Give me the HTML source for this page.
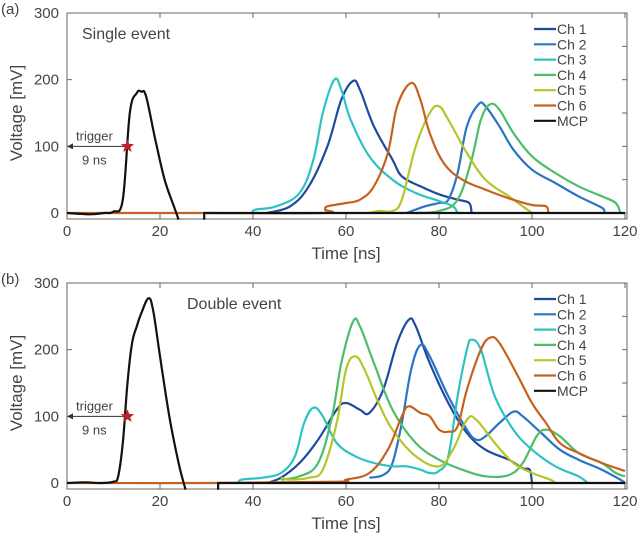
<!DOCTYPE html>
<html><head><meta charset="utf-8"><style>
html,body{margin:0;padding:0;background:#fff;width:640px;height:534px;overflow:hidden}
svg text{font-family:"Liberation Sans",sans-serif;fill:#444}
</style></head><body>
<svg id="fig" width="640" height="534"></svg>
<script>
const xTicks=[0,20,40,60,80,100,120];
const yTicks=[0,100,200,300];
const seriesNames=["Ch 1","Ch 2","Ch 3","Ch 4","Ch 5","Ch 6","MCP"];
const seriesColors=["#1d4b9e","#2a74c4","#2ec2c2","#4cbd68","#b7c52a","#c6621f","#111111"];
// panel a data: [time ns, mV]
const a_ch1=[[43,0],[48,10],[52,40],[56,100],[59,170],[61.5,198],[63,185],[66,130],[70,80],[72,55],[76,40],[80,28],[84,20],[86.5,15],[87,0]];
const a_ch2=[[73,0],[77,10],[80,15],[82,20],[84,60],[86,130],[88.5,163],[90,160],[93,130],[96,95],[100,65],[105,45],[110,25],[115,8],[115.5,0]];
const a_ch3=[[40,0],[40.5,5],[45,10],[50,30],[53,80],[55,150],[57.5,200],[59,185],[61,140],[65,85],[70,50],[75,30],[80,18],[83,10],[84,0]];
const a_ch4=[[75,0],[80,3],[84,20],[87,80],[89,140],[91,163],[93,155],[96,120],[100,85],[105,60],[110,40],[115,25],[118,15],[119,0]];
const a_ch5=[[65,0],[67,3],[70,3],[72,20],[75,100],[78,150],[80,160],[82,140],[86,90],[90,50],[95,25],[98,10],[100,0]];
const a_ch6=[[0,0],[29,0],[55,0],[55.5,5],[56,10],[60,15],[63,20],[66,40],[69,90],[71,160],[74,195],[76,170],[78,120],[81,75],[85,50],[90,35],[95,22],[100,12],[103,10],[103.5,0]];
const a_mcp=[[0,0],[5,-2],[8,0],[10,2],[12,20],[13.5,150],[15,180],[16,182],[17,175],[19,110],[21,50],[23,10],[24,-10]];
const a_mcp2=[[29.5,-10],[29.5,0],[120,0]];
// panel b data
const b_ch1=[[43,0],[46,8],[50,30],[54,65],[58,110],[60,120],[63,110],[65,105],[68,140],[71,210],[73.5,245],[75,235],[78,180],[82,120],[86,75],[90,50],[95,35],[98,22],[99.5,20],[100,0]];
const b_ch2=[[65,8],[68,12],[70,30],[72,90],[74,170],[76,207],[78,190],[82,130],[86,80],[88,65],[90,70],[93,90],[96,107],[98,100],[102,75],[106,50],[110,35],[115,20],[119,5],[120,0]];
const b_ch3=[[37,0],[37.5,5],[42,8],[46,15],[49,40],[51,90],[53,113],[55,100],[58,60],[62,40],[66,30],[70,25],[73,25],[76,20],[78,15],[80,18],[82,40],[84,130],[86,200],[87,215],[89,200],[92,130],[96,80],[100,50],[105,25],[110,10],[112,0]];
const b_ch4=[[46,5],[50,10],[54,30],[57,100],[59,180],[61.5,242],[63,235],[66,180],[70,110],[75,60],[80,35],[85,20],[90,10],[95,12],[98,30],[101,70],[103,80],[106,70],[110,45],[115,30],[118,15],[120,10]];
const b_ch5=[[46,8],[48,5],[52,8],[55,20],[58,90],[60,170],[62,190],[64,170],[67,120],[70,80],[75,40],[80,25],[83,50],[86,95],[88,95],[92,60],[96,30],[100,15],[104,5],[105,0]];
const b_ch6=[[0,0],[32,0],[58,2],[60,5],[65,15],[69,50],[72,100],[73.5,115],[76,105],[78,100],[80,80],[82,77],[84,85],[86,140],[89,200],[91,218],[93,210],[97,160],[100,120],[103,90],[106,60],[110,45],[115,30],[120,18]];
const b_mcp=[[0,0],[4,1],[7,0],[10,2],[11,10],[12,60],[13,150],[14,210],[15,235],[16,255],[17.5,277],[18.5,260],[20,190],[22,100],[24,30],[25.5,-10]];
const b_mcp2=[[32.5,-10],[32.5,0],[120,0]];

const NS="http://www.w3.org/2000/svg";
const svg=document.getElementById('fig');
function el(tag,attrs,parent){const e=document.createElementNS(NS,tag);for(const k in attrs)e.setAttribute(k,attrs[k]);(parent||svg).appendChild(e);return e;}
function smoothPath(P){
  let d='M'+P[0][0].toFixed(1)+','+P[0][1].toFixed(1);
  for(let i=0;i<P.length-1;i++){
    const p0=P[i-1]||P[i],p1=P[i],p2=P[i+1],p3=P[i+2]||p2;
    const t=0.18;
    const c1=[p1[0]+(p2[0]-p0[0])*t,p1[1]+(p2[1]-p0[1])*t];
    const c2=[p2[0]-(p3[0]-p1[0])*t,p2[1]-(p3[1]-p1[1])*t];
    d+=' C'+c1.map(v=>v.toFixed(1)).join(',')+' '+c2.map(v=>v.toFixed(1)).join(',')+' '+p2[0].toFixed(1)+','+p2[1].toFixed(1);
  }
  return d;
}

function panel(cfg){
  const g=el('g',{});
  
  
  const L=67,R=625,T=cfg.top,B0=cfg.top+200,Bb=B0+6;
  const sx=v=>L+(v/120)*(R-L);
  const sy=v=>B0-(v/300)*200;
  const box=el('rect',{x:L,y:T,width:R-L+2,height:Bb-T,fill:'none',stroke:'#666','stroke-width':1},g);
  
  
  xTicks.forEach(t=>{
    el('line',{x1:sx(t),x2:sx(t),y1:Bb,y2:Bb-5,stroke:'#666'},g);
    el('line',{x1:sx(t),x2:sx(t),y1:T,y2:T+5,stroke:'#666'},g);
    const tx=el('text',{x:sx(t),y:Bb+17,'text-anchor':'middle','font-size':15},g);tx.textContent=t;
    
    
  });
  yTicks.forEach(t=>{
    el('line',{x1:L,x2:L+5,y1:sy(t),y2:sy(t),stroke:'#666'},g);
    el('line',{x1:R+2,x2:R-3,y1:sy(t),y2:sy(t),stroke:'#666'},g);
    const ty=el('text',{x:L-8,y:sy(t)+5,'text-anchor':'end','font-size':15},g);ty.textContent=t;
    
    
  });
  [50,150,250].forEach(t=>{el('line',{x1:R+2,x2:R-3,y1:sy(t),y2:sy(t),stroke:'#666'},g);});
  const xt=el('text',{x:346,y:Bb+40,'text-anchor':'middle','font-size':17},g);xt.textContent='Time [ns]';
  
  
  const yt=el('text',{x:0,y:0,'text-anchor':'middle','font-size':17,transform:`translate(22,${T+100}) rotate(-90)`},g);yt.textContent='Voltage [mV]';
  
  
  const pl=el('text',{x:1,y:T+1,'font-size':15},g);pl.textContent=cfg.label;
  
  
  const ti=el('text',{x:cfg.titleX,y:T+cfg.titleDy,'font-size':16,fill:'#111'},g);ti.textContent=cfg.title;
  
  
  const draw=(pts,color,nm)=>{
    const P=pts.map(q=>[sx(q[0]),sy(q[1])]);
    const p=el('path',{d:smoothPath(P),fill:'none',stroke:color,'stroke-width':2.2,'stroke-linejoin':'round'},g);
    
    
  };
  cfg.series.forEach((s,i)=>draw(s,seriesColors[i],'series-'+seriesNames[i].toLowerCase().replace(' ','')));
  const bl=el('polyline',{points:cfg.mcp2.map(q=>sx(q[0]).toFixed(1)+','+sy(q[1]).toFixed(1)).join(' '),fill:'none',stroke:seriesColors[6],'stroke-width':2.2},g);
  
  
  // trigger
  const ar=el('line',{x1:sx(13),y1:sy(100),x2:sx(0)+4,y2:sy(100),stroke:'#333','stroke-width':1},g);
  
  
  el('polygon',{points:`${sx(0)},${sy(100)} ${sx(0)+6},${sy(100)-3} ${sx(0)+6},${sy(100)+3}`,fill:'#333'},g);
  const cx=sx(13),cy=sy(100),pts=[];
  for(let k=0;k<10;k++){const r=k%2?3:7,a=-Math.PI/2+k*Math.PI/5;pts.push((cx+r*Math.cos(a)).toFixed(1)+','+(cy+r*Math.sin(a)).toFixed(1));}
  const st=el('polygon',{points:pts.join(' '),fill:'#c0202a'},g);
  
  
  const t1=el('text',{x:76,y:sy(100)-6,'font-size':13},g);t1.textContent='trigger';
  
  
  const t2=el('text',{x:82,y:sy(100)+18,'font-size':13},g);t2.textContent='9 ns';
  
  
  // legend
  seriesNames.forEach((n,i)=>{
    const y=cfg.legY+i*15.3;
    const ll=el('line',{x1:534,x2:556,y1:y,y2:y,stroke:seriesColors[i],'stroke-width':2.2},g);
    
    
    const lt=el('text',{x:557,y:y+5,'font-size':14},g);lt.textContent=n;
    
    
  });
}
panel({name:'panel-a-single-event',top:13,label:'(a)',title:'Single event',titleX:82,titleDy:26,legY:29,
  series:[a_ch1,a_ch2,a_ch3,a_ch4,a_ch5,a_ch6,a_mcp],mcp2:a_mcp2});
panel({name:'panel-b-double-event',top:283,label:'(b)',title:'Double event',titleX:187,titleDy:26,legY:299,
  series:[b_ch1,b_ch2,b_ch3,b_ch4,b_ch5,b_ch6,b_mcp],mcp2:b_mcp2});
</script>
</body></html>
